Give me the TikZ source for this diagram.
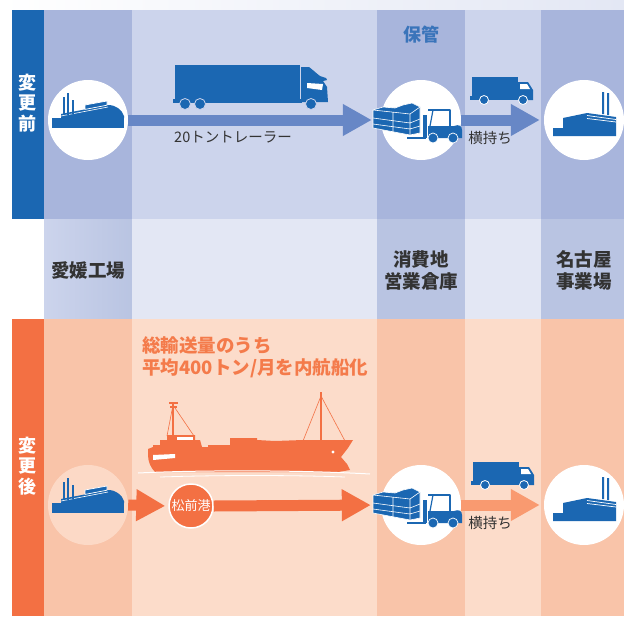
\documentclass[tikz,border=0pt]{standalone}
\usepackage{fontspec}
\setmainfont{Noto Sans CJK JP}
\usepackage{tikz}
\usetikzlibrary{arrows.meta}

\definecolor{navy}{HTML}{1B67B2}
\definecolor{bluemid}{HTML}{A8B5DC}
\definecolor{bluelite}{HTML}{CCD4EC}
\definecolor{greymid}{HTML}{B9C4E2}
\definecolor{greylite}{HTML}{E3E7F4}
\definecolor{rust}{HTML}{F37043}
\definecolor{peachmid}{HTML}{F9C4A9}
\definecolor{peachlite}{HTML}{FCDCCA}
\definecolor{paleorange}{HTML}{FCD9C6}
\definecolor{arrowblue}{HTML}{6787C6}
\definecolor{arrowpeach}{HTML}{F99A70}
\definecolor{keepblue}{HTML}{3A74BA}
\definecolor{notered}{HTML}{F47B4B}
\definecolor{ink}{HTML}{333333}

\begin{document}
\begin{tikzpicture}[line join=round,x=1pt,y=-1pt,
  spot/.style={circle,fill=white,minimum size=80pt,inner sep=0pt},
  port/.style={circle,fill=rust,draw=white,line width=1.5pt,minimum size=44pt,inner sep=0pt,
    text=white,font=\fontsize{13}{13}\selectfont},
  lbl/.style={text=ink,font=\fontsize{14.5}{18}\selectfont,inner sep=0pt},
  place/.style={text=ink,font=\bfseries\fontsize{18.5}{22}\selectfont,align=center,inner sep=0pt},
  side/.style={text=white,font=\bfseries\fontsize{18}{20.5}\selectfont,align=center,inner sep=0pt},
  flow/.style={line width=11pt,-{Triangle[length=29pt,width=30pt]}},
  plant/.pic={
    \fill[navy] (-36,-2) rectangle (36,8);
    \fill[navy] (-27,-2) -- (-27,-6) -- (20,-15) .. controls (28,-15) and (34,-10) .. (36,-4) -- (36,-2) -- cycle;
    \draw[white,line width=0.6pt] (-27,-4) -- (20,-13);
    \filldraw[fill=navy,draw=white,line width=0.7pt] (-3,-10.6) -- (19,-14.8) -- (19,-19) -- (-3,-15) -- cycle;
    \draw[navy,line width=1.8pt] (-24,-5) -- (-24,-23) (-20,-5) -- (-20,-27) (-15,-6) -- (-15,-20);
  },
  depot/.pic={
    \filldraw[fill=navy,draw=white,line width=0.6pt] (-48,-10) -- (-38,-13) -- (-26,-12) -- (-18,-15) -- (-9,-17)
      -- (-1,-13) -- (-1,13) -- (-11,15) -- (-48,8) -- cycle;
    \draw[white,line width=0.6pt] (-48,-10) -- (-11,-6) -- (-1,-13) (-11,-6) -- (-11,15)
      (-48,-2) -- (-11,3) -- (-1,-1) (-48,4) -- (-11,9) -- (-1,6) (-28,-8) -- (-28,12);
    \fill[navy] (2,-5) rectangle (6,18);
    \draw[navy,line width=2pt] (7,-10) -- (29,-10) -- (29,6);
    \draw[navy,line width=1.2pt] (12,-10) -- (9,6);
    \fill[navy] (7,6) -- (33,6) .. controls (38,4) and (41,6) .. (41,10) -- (41,18) -- (7,18) -- cycle;
    \draw[navy,line width=1.6pt] (-14,18) -- (5,18);
    \filldraw[fill=navy,draw=white,line width=0.7pt] (12,18) circle (5) (32,18) circle (5);
    \draw[white,line width=0.8pt] (20,-4) circle (1.8) (19,-1) -- (21,4) -- (25,4) (15,2) -- (19,-1) -- (23,1);
  },
  mill/.pic={
    \fill[navy] (-31,16) -- (-31,8) -- (-21,8) -- (-21,-2) -- (3,-7) -- (32,-3) -- (32,16) -- cycle;
    \fill[navy] (18,-28) rectangle (20,-6) (23,-27) rectangle (25,-5);
    \draw[white,line width=0.7pt] (3,-4.5) -- (32,-0.5) (3,-1.5) -- (32,2);
  },
  van/.pic={
    \fill[navy] (-29,-13) rectangle (17,6);
    \fill[navy] (-31,6) rectangle (32,10);
    \fill[navy] (17,-8) -- (27,-8) -- (32,0) -- (32,10) -- (17,10) -- cycle;
    \fill[white] (19,-6) -- (26,-6) -- (29,-1) -- (19,-1) -- cycle;
    \filldraw[fill=navy,draw=white,line width=0.8pt] (-17,10) circle (4.5) (22,10) circle (4.5);
  }]
\useasboundingbox (0,0) rectangle (624,616);

% bands and columns
\fill[left color=white,right color=greylite] (0,0) rectangle (624,10);
\fill[navy] (12,10) rectangle (44,219);
\fill[bluemid] (44,10) rectangle (132,219);
\fill[bluelite] (132,10) rectangle (377,219);
\fill[bluemid] (377,10) rectangle (465,219);
\fill[bluelite] (465,10) rectangle (541,219);
\fill[bluemid] (541,10) rectangle (624,219);
\fill[left color=bluelite,right color=greymid] (44,219) rectangle (132,319);
\fill[greylite] (132,219) rectangle (377,319);
\fill[greymid] (377,219) rectangle (465,319);
\fill[greylite] (465,219) rectangle (541,319);
\fill[greymid] (541,219) rectangle (624,319);
\fill[rust] (12,319) rectangle (44,616);
\fill[peachmid] (44,319) rectangle (132,616);
\fill[peachlite] (132,319) rectangle (377,616);
\fill[peachmid] (377,319) rectangle (465,616);
\fill[peachlite] (465,319) rectangle (541,616);
\fill[peachmid] (541,319) rectangle (624,616);

\node[spot] (ehime) at (88,120) {};
\node[spot] (depot) at (421,120) {};
\node[spot] (nagoya) at (584,120) {};
\node[spot,fill=paleorange] (ehime2) at (88,505) {};
\node[spot] (depot2) at (421,505) {};
\node[spot] (nagoya2) at (584,505) {};
\node[port] (port) at (191,506) {松前港};

\draw[flow,arrowblue,shorten >=9pt] (ehime.east) -- (depot.west);
\draw[flow,arrowblue,shorten >=4pt] (depot.east) -- (nagoya.west);
\draw[flow,rust,shorten >=3pt] (ehime2.east) -- (port.west);
\draw[flow,rust,shorten >=10pt] (port.east) -- (depot2.west);
\draw[flow,arrowpeach,shorten >=4pt] (depot2.east) -- (nagoya2.west);

\pic at (ehime) {plant};
\pic at (depot) {depot};
\pic at (nagoya) {mill};
\pic at (ehime2) {plant};
\pic at (depot2) {depot};
\pic at (nagoya2) {mill};
\pic at (501,90) {van};
\pic at (502,475) {van};

% trailer truck
\fill[navy] (175,65) rectangle (300,99);
\fill[navy] (173,99) rectangle (302,103);
\fill[navy] (301,67) -- (309,67) .. controls (313,70) and (316,73) .. (320,76) -- (326,78) -- (327,80) -- (323,81)
  -- (327,87) -- (328,102) -- (301,102) -- cycle;
\fill[white] (307,83) -- (323,84) -- (322,90) -- (307,88) -- cycle;
\filldraw[fill=navy,draw=bluelite,line width=0.8pt] (185,104) circle (5.5) (200,104) circle (5.5) (311,104) circle (5.5);

% ship
\fill[rust] (148,449) -- (153,447) -- (153,445) -- (160,445) -- (160,440) -- (167,440) -- (167,435) -- (195,435)
  -- (195,440) -- (200,440) -- (202,447) -- (208,447) -- (208,445) -- (230,445) -- (230,438) -- (257,438)
  -- (257,440) -- (275,441) -- (303,440) -- (313,440) -- (353,440) -- (348,448) -- (341,457) -- (347,464)
  -- (350,470) -- (338,472) -- (155,472) .. controls (151,468) and (148,462) .. (148,455) -- cycle;
\draw[rust,line width=2pt] (173,402) -- (173,436) (321,392) -- (321,441);
\draw[rust,line width=1.5pt] (169,403) -- (178,403) (170,407) -- (177,407);
\draw[rust,line width=0.6pt] (173,405) -- (167,436) (173,405) -- (194,436) (321,396) -- (303,441) (321,396) -- (345,441);
\fill[white] (177,437) rectangle (193,440);
\fill[white] (153,455) -- (175,454) -- (175,458) -- (153,460) -- cycle;
\fill[white] (333,452) circle (1.6);
\draw[white,line width=1pt] (138,473) .. controls (200,470) and (300,470) .. (370,474);
\draw[white,line width=0.8pt] (160,477) .. controls (220,475) and (290,475) .. (345,477);

% labels
\node[side] (before) at (28,103) {変\\更\\前};
\node[side] (after) at (28,466) {変\\更\\後};
\node[text=keepblue,font=\bfseries\fontsize{18}{18}\selectfont,inner sep=0pt] (keep) at (421,35) {保管};
\node[lbl] (trailer) at (233,137) {20トントレーラー};
\node[lbl] (yoko) at (490,138) {横持ち};
\node[lbl] (yoko2) at (490,523) {横持ち};
\node[place] (ehimeLbl) at (88,270) {愛媛工場};
\node[place] (depotLbl) at (421,270) {消費地\\営業倉庫};
\node[place] (nagoyaLbl) at (584,270) {名古屋\\事業場};
\node[text=notered,font=\bfseries\fontsize{18.5}{22}\selectfont,align=left,anchor=west,inner sep=0pt] (note) at (142,357)
  {総輸送量のうち\\平均400トン/月を内航船化};
\end{tikzpicture}
\end{document}
